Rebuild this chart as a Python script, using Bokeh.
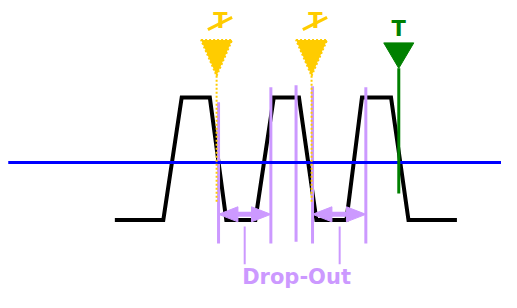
from bokeh.plotting import figure
from bokeh.models import Range1d
from bokeh.core.properties import value
from bokeh.embed import file_html
from bokeh.resources import INLINE

# --- data (time units ~ px, level units ~ px, y downwards) ---
wave_t = [118, 168, 187, 216, 233, 263, 282, 308, 326, 357, 373, 403, 421, 471]
wave_y = [233, 233, 103, 103, 233, 233, 103, 103, 233, 233, 103, 103, 233, 233]

threshold_t = [8, 517]
threshold_y = [172, 172]

marker_t = [225, 279, 305, 322, 377]
marker_top = [108, 92, 90, 91, 92]
marker_bottom = [258, 258, 256, 258, 258]

dropout_start = [225, 322]
dropout_end = [279, 377]
dropout_y = [227, 227]
dropout_center = [252, 350]
dropout_tick_top = [240, 240]
dropout_tick_bottom = [280, 280]
dropout_label = "Drop-Out"
dropout_label_x = 305.5
dropout_label_y = 294

trig_t = [223, 321]          # suppressed (yellow) triggers
trig_tri_top = 42
trig_tri_tip = 80
trig_line_end = 215
trig_label_y = 22

valid_t = [411]              # valid (green) trigger
valid_tri_top = 45
valid_tri_tip = 72
valid_line_end = 205
valid_label_y = 30

PURPLE = "#cc99ff"
YELLOW = "#ffcc00"
GREEN = "#008000"
BLUE = "#0000ff"

p = figure(width=501, height=292, output_backend="svg", toolbar_location=None,
           x_axis_type=None, y_axis_type=None, min_border=0,
           x_range=Range1d(0, 517), y_range=Range1d(310, 0))
p.outline_line_color = None
p.xgrid.visible = False
p.ygrid.visible = False
p.background_fill_color = "white"

# waveform
p.line(wave_t, wave_y, line_color="black", line_width=4, line_join="miter")

# purple marker lines
p.segment(x0=marker_t, y0=marker_top, x1=marker_t, y1=marker_bottom,
          line_color=PURPLE, line_width=3)

# threshold line
p.line(threshold_t, threshold_y, line_color=BLUE, line_width=3)

# drop-out double arrows
head_len, head_half = 20, 8
for x0, x1, y in zip(dropout_start, dropout_end, dropout_y):
    p.segment(x0=[x0 + head_len], y0=[y], x1=[x1 - head_len], y1=[y],
              line_color=PURPLE, line_width=5)
    p.patches(xs=[[x0, x0 + head_len, x0 + head_len], [x1, x1 - head_len, x1 - head_len]],
              ys=[[y, y - head_half, y + head_half], [y, y - head_half, y + head_half]],
              fill_color=PURPLE, line_color=PURPLE, line_width=1)
p.segment(x0=dropout_center, y0=dropout_tick_top, x1=dropout_center, y1=dropout_tick_bottom,
          line_color=PURPLE, line_width=2)
p.text(x=[dropout_label_x], y=[dropout_label_y], text=[dropout_label],
       text_color=PURPLE, text_font=value("DejaVu Sans"), text_font_style="bold",
       text_font_size="21px", text_align="center", text_baseline="alphabetic")

# yellow (suppressed) triggers
half_w = 16
p.segment(x0=trig_t, y0=[trig_tri_tip] * len(trig_t), x1=trig_t, y1=[trig_line_end] * len(trig_t),
          line_color=YELLOW, line_width=2, line_dash="2 2")
p.patches(xs=[[t - half_w, t + half_w, t] for t in trig_t],
          ys=[[trig_tri_top, trig_tri_top, trig_tri_tip] for t in trig_t],
          fill_color=YELLOW, line_color=YELLOW, line_width=2, line_dash="2 2")
p.text(x=[t + 4 for t in trig_t], y=[trig_label_y] * len(trig_t), text=["T"] * len(trig_t),
       text_color=YELLOW, text_font=value("DejaVu Sans"), text_font_style="bold",
       text_font_size="21px", text_align="center", text_baseline="alphabetic")
p.segment(x0=[t - 9 for t in trig_t], y0=[31] * len(trig_t),
          x1=[t + 16 for t in trig_t], y1=[18] * len(trig_t),
          line_color=YELLOW, line_width=3)

# green (valid) trigger
p.segment(x0=valid_t, y0=[valid_tri_tip], x1=valid_t, y1=[valid_line_end],
          line_color=GREEN, line_width=3)
p.patches(xs=[[t - 15.5, t + 15.5, t] for t in valid_t],
          ys=[[valid_tri_top, valid_tri_top, valid_tri_tip] for t in valid_t],
          fill_color=GREEN, line_color=GREEN, line_width=1)
p.text(x=valid_t, y=[valid_label_y], text=["T"],
       text_color=GREEN, text_font=value("DejaVu Sans"), text_font_style="bold",
       text_font_size="21px", text_align="center", text_baseline="alphabetic")

open("out.html", "w").write(file_html(p, INLINE))
